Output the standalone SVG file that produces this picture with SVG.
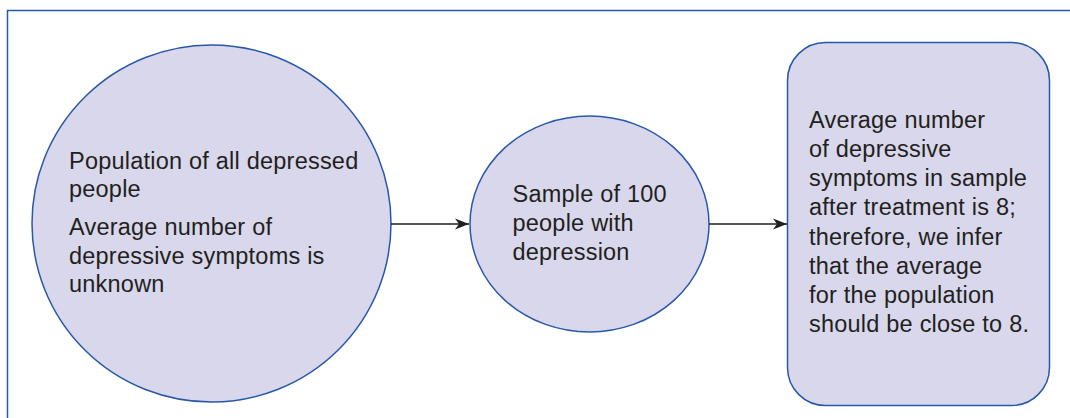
<svg xmlns="http://www.w3.org/2000/svg" width="1070" height="418" viewBox="0 0 1070 418">
<style>
.node{fill:#D8D7EB;stroke:#2858A8;stroke-width:1.5}
.t{font-family:"Liberation Sans",Arial,sans-serif;font-size:23.5px;letter-spacing:0.22px;fill:#231F20}
.conn{stroke:#231F20;stroke-width:1.3;fill:none}
</style>
<defs>
<marker id="ah" markerWidth="15" markerHeight="12" refX="14" refY="6" orient="auto" markerUnits="userSpaceOnUse">
<path d="M0,0.5 L14,6 L0,11.5 L4,6 Z" fill="#231F20"/>
</marker>
</defs>
<rect width="1070" height="418" fill="#fff"/>
<path d="M7.5,418 V10.5 H1070" fill="none" stroke="#2858A8" stroke-width="1.5"/>
<g id="population">
<ellipse class="node" cx="211.5" cy="223.5" rx="179.5" ry="178.5"/>
<text class="t"><tspan x="69" y="169">Population of all depressed</tspan><tspan x="69" y="196.5">people</tspan><tspan x="69" y="235">Average number of</tspan><tspan x="69" y="263.5">depressive symptoms is</tspan><tspan x="69" y="291.5">unknown</tspan></text>
</g>
<g id="sample">
<ellipse class="node" cx="589.5" cy="224" rx="119.5" ry="108"/>
<text class="t"><tspan x="512.5" y="202">Sample of 100</tspan><tspan x="512.5" y="231">people with</tspan><tspan x="512.5" y="260">depression</tspan></text>
</g>
<g id="inference">
<rect class="node" x="787.5" y="42.5" width="262" height="363" rx="38" ry="38"/>
<text class="t"><tspan x="809" y="128">Average number</tspan><tspan x="809" y="157">of depressive</tspan><tspan x="809" y="186">symptoms in sample</tspan><tspan x="809" y="215">after treatment is 8;</tspan><tspan x="809" y="245">therefore, we infer</tspan><tspan x="809" y="274">that the average</tspan><tspan x="809" y="303">for the population</tspan><tspan x="809" y="332">should be close to 8.</tspan></text>
</g>
<g id="connectors">
<line class="conn" x1="391" y1="224" x2="469" y2="224" marker-end="url(#ah)"/>
<line class="conn" x1="709" y1="224" x2="787" y2="224" marker-end="url(#ah)"/>
</g>
</svg>
